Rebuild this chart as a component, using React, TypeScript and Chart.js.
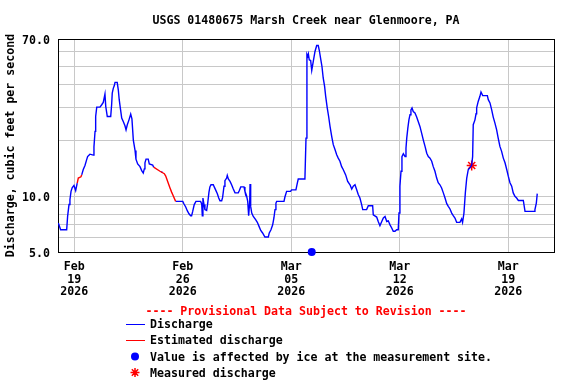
import React, { useEffect, useRef } from 'react';
import { Chart, registerables } from 'chart.js';

Chart.register(...registerables);

const FONT = '"DejaVu Sans Mono", "Liberation Mono", monospace';

const titleText = 'USGS 01480675 Marsh Creek near Glenmoore, PA';
const yAxisLabel = 'Discharge, cubic feet per second';
const provisionalText = '---- Provisional Data Subject to Revision ----';
const legendLabels = [
  'Discharge',
  'Estimated discharge',
  'Value is affected by ice at the measurement site.',
  'Measured discharge',
];

// x axis: days after Feb 19 2026 00:00
const xMin = -1.05;
const xMax = 30.95;
const xTickDays = [0, 7, 14, 21, 28];
const xTickMonth = ['Feb', 'Feb', 'Mar', 'Mar', 'Mar'];
const xTickDate = ['19', '26', '05', '12', '19'];
const xTickYear = ['2026', '2026', '2026', '2026', '2026'];

const yMin = 5;
const yMax = 70;
const yGridValues = [5, 6, 7, 8, 9, 10, 20, 30, 40, 50, 60, 70];
const yLabelValues = [5, 10, 70];
const yLabelTexts = ['5.0', '10.0', '70.0'];

const dischargeDays = [
  -1.03, -0.88, -0.49, -0.43, -0.34, -0.28, -0.21, -0.13, -0.02, 0.09, 0.19, 0.3,
  0.48, 0.58, 0.69, 0.8, 0.86, 1.01, 1.23, 1.27, 1.34, 1.38, 1.45, 1.66, 1.77, 1.87,
  1.98, 2.03, 2.13, 2.35, 2.41, 2.45, 2.52, 2.58, 2.63, 2.77, 2.84, 2.9, 2.97, 3.06,
  3.16, 3.27, 3.34, 3.42, 3.53, 3.64, 3.72, 3.81, 3.92, 3.98, 4.09, 4.24, 4.35, 4.45,
  4.52, 4.56, 4.63, 4.77, 4.84, 5.06, 5.12, 5.3, 5.6, 5.7, 6.0,
  6.54, 7.0, 7.08, 7.19, 7.29, 7.4, 7.51, 7.57, 7.64, 7.74, 7.85, 8.15, 8.22, 8.26,
  8.3, 8.37, 8.43, 8.54, 8.61, 8.69, 8.75, 8.82, 8.97, 9.03, 9.14, 9.23, 9.32, 9.4,
  9.51, 9.57, 9.66, 9.72, 9.83, 9.87, 9.94, 10.05, 10.15, 10.26, 10.37, 10.58, 10.65,
  10.74, 10.95, 11.01, 11.12, 11.19, 11.25, 11.32, 11.34, 11.38, 11.45, 11.55, 11.7,
  11.81, 11.92, 12.03, 12.15, 12.3, 12.52, 12.58, 12.69, 12.8, 12.88, 12.95, 13.01,
  13.06, 13.53, 13.59, 13.7, 13.95, 14.02, 14.3, 14.39, 14.45, 14.88, 14.95, 15.01,
  15.05, 15.1, 15.16, 15.25, 15.32, 15.42, 15.53, 15.64, 15.74, 15.81, 15.9, 15.98,
  16.06, 16.15, 16.22, 16.32, 16.41, 16.5, 16.61, 16.71, 16.82, 16.93, 17.03, 17.14,
  17.25, 17.35, 17.51, 17.64, 17.79, 17.9, 18.0, 18.11, 18.22, 18.32, 18.43, 18.54,
  18.61, 18.86, 18.97, 19.25, 19.29, 19.51, 19.61, 19.72, 19.83, 19.94, 20.05, 20.16,
  20.26, 20.37, 20.48, 20.58, 20.69, 20.8, 20.9, 20.95, 21.01, 21.08, 21.14, 21.23,
  21.34, 21.4, 21.45, 21.52, 21.59, 21.66, 21.72, 21.79, 21.87, 21.98, 22.09, 22.19,
  22.3, 22.41, 22.52, 22.63, 22.74, 22.84, 22.95, 23.06, 23.16, 23.27, 23.38, 23.48,
  23.59, 23.7, 23.81, 23.92, 24.03, 24.13, 24.24, 24.35, 24.45, 24.56, 24.67, 24.88,
  24.99, 25.05, 25.14, 25.23, 25.32, 25.42, 25.53, 25.64, 25.7, 25.74, 25.85, 25.92,
  25.96, 26.06, 26.17, 26.24, 26.35, 26.65, 26.71, 26.82, 26.93, 27.03, 27.14, 27.25,
  27.35, 27.46, 27.57, 27.68, 27.79, 27.9, 28.0, 28.11, 28.22, 28.32, 28.43, 28.54,
  28.65, 28.97, 29.08, 29.66, 29.72, 29.81, 29.87,
];
const dischargeCfs = [
  7.16, 6.59, 6.59, 7.77, 9.0, 9.56, 10.6, 11.1, 11.4, 10.7, 11.75, null,
  13.0, 13.9, 14.6, 15.7, 16.3, 16.8, 16.6, 18.4, 22.3, 26.8, 30.1, 30.1, 31.0, 31.9,
  35.4, 30.4, 26.8, 26.8, 31.0, 35.8, 38.1, 39.2, 40.9, 40.9, 37.3, 33.0, 29.8, 26.3,
  25.2, 23.9, 22.7, 24.2, 25.7, 27.6, 26.0, 20.0, 17.6, 15.8, 14.9, 14.4, 13.7, 13.3,
  14.0, 15.1, 15.8, 15.8, 14.9, 14.7, 14.3, null, 13.5, 13.4, null,
  9.36, 9.36, 9.06, 8.73, 8.34, 8.03, 7.84, 7.84, 8.27, 9.0, 9.36, 9.36, 9.06, 7.84,
  9.76, 9.0, 8.45, 8.37, 9.17, 10.5, 11.2, 11.5, 11.5, 11.2, 10.7, 10.3, 9.76, 9.44,
  9.44, 9.83, 11.3, 12.1, 12.5, 12.9, 12.35, 12.0, 11.5, 10.9, 10.4, 10.4, 10.7,
  11.2, 11.2, 10.6, 10.0, 9.36, 7.84, 9.36, 11.6, 8.8, 8.1, 7.77, 7.46,
  7.22, 6.87, 6.53, 6.33, 6.02, 6.02, 6.33, 6.59, 7.0, 7.62, 8.45, 9.17,
  9.36, 9.36, 9.88, 10.6, 10.6, 10.8, 10.8, 11.75, 12.35, 12.35, 20.5, 57.6,
  56.4, 58.3, 54.1, 53.6, 47.4, 53.0, 60.0, 64.6, 64.6, 60.7, 54.6, 49.8,
  43.2, 38.9, 34.4, 29.8, 26.8, 23.7, 20.9, 18.9, 17.8, 16.7, 16.0, 15.4,
  14.4, 13.9, 13.0, 12.0, 11.5, 10.9, 11.3, 11.5, 10.8, 10.2, 9.76, 9.0,
  8.45, 8.45, 8.87, 8.87, 7.93, 7.71, 7.3, 6.93, 7.28, 7.62, 7.77, 7.3,
  7.36, 7.0, 6.73, 6.46, 6.46, 6.59, 6.59, 8.1, 11.3, 13.6, 16.3, 16.9,
  16.3, 18.1, 20.5, 23.2, 25.7, 27.4, 29.1, 29.8, 28.5, 28.0, 26.6, 25.2,
  23.7, 21.8, 20.0, 18.5, 17.0, 16.3, 16.0, 15.4, 14.4, 13.6, 12.5, 11.8,
  11.5, 11.05, 10.4, 9.76, 9.1, 8.8, 8.52, 8.1, 7.84, 7.62, 7.22, 7.22,
  7.53, 7.22, 8.1, 10.4, 12.5, 13.9, 14.2, 14.7, 16.3, 24.2, 25.7, 27.7,
  29.8, 32.3, 34.4, 36.3, 34.7, 34.7, 33.0, 31.7, 29.1, 26.6, 24.7, 22.7,
  20.5, 18.5, 17.4, 16.0, 15.1, 13.9, 12.8, 11.8, 11.3, 10.4, 9.96, 9.76,
  9.47, 9.47, 8.27, 8.27, 8.45, 9.17, 10.3,
];

const estimatedDays = [0.19, 0.26, 0.43, 0.48, 3.0, 5.12, 5.53, 5.81, 5.9, 6.06, 6.17, 6.28, 6.39, 6.54];
const estimatedCfs = [11.75, 12.5, 12.7, 13.0, null, 14.3, 13.6, 13.2, 12.8, 11.75, 11.1, 10.5, 10.0, 9.36];

const iceDays = [15.32];
const iceCfs = [5.0];
const measuredDays = [25.64];
const measuredCfs = [14.6];

const BLUE = '#0000ff';
const RED = '#ff0000';
const GRID = '#c8c8c8';

function drawAsterisk(ctx: CanvasRenderingContext2D, x: number, y: number, r: number) {
  ctx.beginPath();
  for (let k = 0; k < 4; k++) {
    const a = (k * Math.PI) / 4;
    ctx.moveTo(x - r * Math.cos(a), y - r * Math.sin(a));
    ctx.lineTo(x + r * Math.cos(a), y + r * Math.sin(a));
  }
  ctx.stroke();
}

const overlayPlugin = {
  id: 'overlay',
  beforeDatasetsDraw(chart: any) {
    const { ctx, chartArea: a } = chart;
    ctx.save();
    ctx.strokeStyle = '#000';
    ctx.lineWidth = 1;
    ctx.strokeRect(a.left + 0.5, a.top + 0.5, a.right - a.left, a.bottom - a.top);
    ctx.restore();
  },
  afterDraw(chart: any) {
    const { ctx, chartArea: a } = chart;
    const cx = (a.left + a.right) / 2;
    ctx.save();
    ctx.font = `bold 11.6px ${FONT}`;
    ctx.textBaseline = 'middle';
    ctx.textAlign = 'center';
    ctx.fillStyle = '#000';
    ctx.fillText(titleText, cx, 21);
    ctx.fillStyle = RED;
    ctx.fillText(provisionalText, cx, 312);

    const rows = [324, 340, 356.5, 372.5];
    const symX = 135;
    ctx.lineWidth = 1;
    ctx.strokeStyle = BLUE;
    ctx.beginPath();
    ctx.moveTo(126, rows[0] + 0.5);
    ctx.lineTo(145, rows[0] + 0.5);
    ctx.stroke();
    ctx.strokeStyle = RED;
    ctx.beginPath();
    ctx.moveTo(126, rows[1] + 0.5);
    ctx.lineTo(145, rows[1] + 0.5);
    ctx.stroke();
    ctx.fillStyle = BLUE;
    ctx.beginPath();
    ctx.arc(symX, rows[2], 4, 0, Math.PI * 2);
    ctx.fill();
    ctx.strokeStyle = RED;
    ctx.lineWidth = 1.5;
    drawAsterisk(ctx, symX, rows[3], 4.5);

    ctx.fillStyle = '#000';
    ctx.textAlign = 'left';
    legendLabels.forEach((t, i) => ctx.fillText(t, 150, rows[i] + 1));
    ctx.restore();
  },
};

export default function App() {
  const canvasRef = useRef<HTMLCanvasElement | null>(null);

  useEffect(() => {
    document.body.style.margin = '0';
    const canvas = canvasRef.current;
    if (!canvas) return;
    const tickFont = { family: FONT, size: 11.6, weight: 'bold' as const, lineHeight: 1.1 };

    const chart = new Chart(canvas, {
      type: 'line',
      data: {
        datasets: [
          {
            label: 'Estimated discharge',
            data: estimatedDays.map((x, i) => ({ x, y: estimatedCfs[i] })) as any,
            borderColor: RED,
            borderWidth: 1.4,
            pointRadius: 0,
            spanGaps: false,
            tension: 0,
            fill: false,
          },
          {
            label: 'Discharge',
            data: dischargeDays.map((x, i) => ({ x, y: dischargeCfs[i] })) as any,
            borderColor: BLUE,
            borderWidth: 1.4,
            pointRadius: 0,
            spanGaps: false,
            tension: 0,
            fill: false,
          },
          {
            label: 'Ice',
            data: iceDays.map((x, i) => ({ x, y: iceCfs[i] })) as any,
            showLine: false,
            pointRadius: 4,
            pointBackgroundColor: BLUE,
            pointBorderColor: BLUE,
            pointBorderWidth: 0,
            clip: false as any,
          },
          {
            label: 'Measured discharge',
            data: measuredDays.map((x, i) => ({ x, y: measuredCfs[i] })) as any,
            showLine: false,
            pointStyle: 'star',
            pointRadius: 5,
            pointBorderColor: RED,
            pointBackgroundColor: RED,
            pointBorderWidth: 1.5,
            clip: false as any,
          },
        ],
      },
      options: {
        responsive: false,
        animation: false,
        devicePixelRatio: 1,
        events: [],
        layout: { padding: { left: 0, right: 22, top: 39, bottom: 72 } },
        plugins: {
          legend: { display: false },
          title: { display: false },
          tooltip: { enabled: false },
        },
        scales: {
          x: {
            type: 'linear',
            min: xMin,
            max: xMax,
            afterBuildTicks: (s: any) => {
              s.ticks = xTickDays.map((v) => ({ value: v }));
            },
            afterFit: (s: any) => {
              s.height = 60;
            },
            grid: { color: GRID, lineWidth: 1, drawTicks: false },
            border: { display: false },
            ticks: {
              autoSkip: false,
              maxRotation: 0,
              padding: 8.5,
              color: '#000',
              font: tickFont,
              callback: (v: any) => {
                const i = xTickDays.indexOf(Number(v));
                return i >= 0 ? [xTickMonth[i], xTickDate[i], xTickYear[i]] : '';
              },
            },
          },
          y: {
            type: 'logarithmic',
            min: yMin,
            max: yMax,
            afterBuildTicks: (s: any) => {
              s.ticks = yGridValues.map((v) => ({ value: v }));
            },
            afterFit: (s: any) => {
              s.width = 58;
            },
            grid: { color: GRID, lineWidth: 1, drawTicks: false },
            border: { display: false },
            ticks: {
              autoSkip: false,
              padding: 8,
              labelOffset: 1.5,
              color: '#000',
              font: { family: FONT, size: 11.6, weight: 'bold' as const },
              callback: (v: any) => {
                const i = yLabelValues.indexOf(Number(v));
                return i >= 0 ? yLabelTexts[i] : '';
              },
            },
            title: {
              display: true,
              text: yAxisLabel,
              color: '#000',
              font: { family: FONT, size: 11.6, weight: 'bold' as const },
              padding: { top: 4.5, bottom: 0 },
            },
          },
        },
      },
      plugins: [overlayPlugin],
    });
    return () => chart.destroy();
  }, []);

  return (
    <div style={{ position: 'absolute', left: 0, top: 0, width: 576, height: 384, background: '#fff' }}>
      <canvas ref={canvasRef} width={576} height={384} style={{ display: 'block', width: 576, height: 384 }} />
    </div>
  );
}
